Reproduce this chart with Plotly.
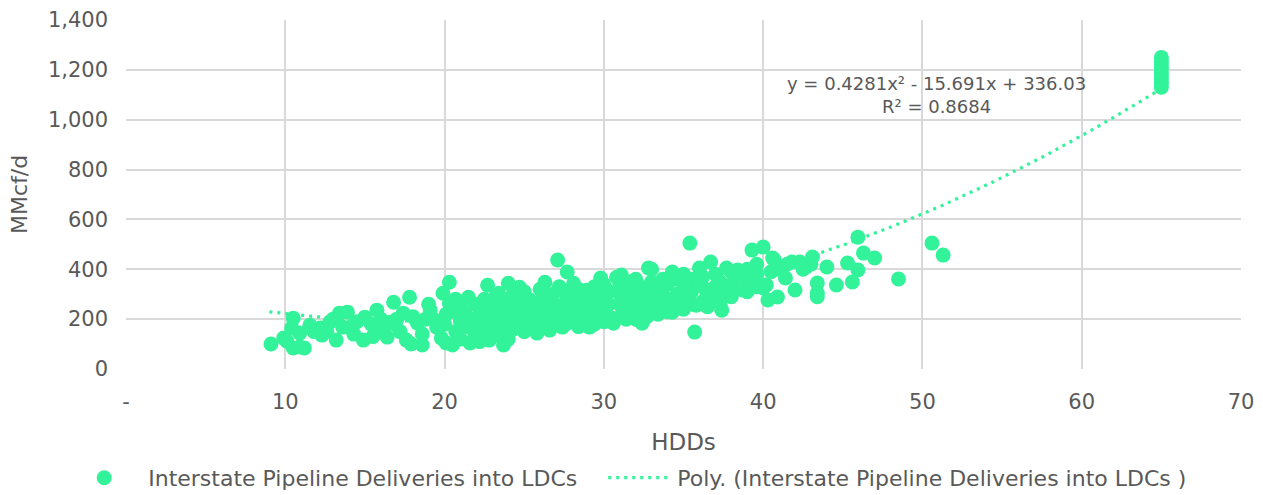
import plotly.graph_objects as go
import numpy as np

# HDD values (x) and the MMcf/d readings observed at each HDD value
hdd_groups = [
    9.1, 9.9, 10.1, 10.4, 10.5, 10.9, 11.2, 11.55, 11.8, 12.2, 12.3, 12.6, 12.8, 13.0, 13.2, 13.4,
    13.6, 13.9, 14.1, 14.3, 14.5, 14.9, 15.0, 15.4, 15.5, 15.75, 15.9, 16.0, 16.2, 16.4, 16.6, 16.8,
    16.9, 17.0, 17.2, 17.4, 17.6, 17.8, 17.9, 18.0, 18.3, 18.6, 18.8, 19.0, 19.1, 19.3, 19.5, 19.8,
    19.9, 20.0, 20.1, 20.3, 20.5, 20.7, 21.0, 21.3, 21.5, 21.6, 21.9, 22.2, 22.5, 22.7, 22.8, 23.0,
    23.2, 23.4, 23.6, 23.7, 24.0, 24.3, 24.6, 24.7, 25.0, 25.3, 25.6, 25.8, 26.0, 26.3, 26.4, 26.6,
    26.8, 27.1, 27.2, 27.4, 27.6, 27.7, 28.0, 28.1, 28.4, 28.7, 28.9, 29.0, 29.1, 29.4, 29.7, 29.8,
    30.0, 30.3, 30.6, 30.8, 31.0, 31.1, 31.4, 31.7, 31.8, 32.0, 32.3, 32.4, 32.7, 32.8, 33.0, 33.1,
    33.4, 33.7, 34.0, 34.3, 34.6, 35.0, 35.2, 35.4, 35.5, 35.7, 35.8, 36.0, 36.2, 36.5, 36.7, 36.8,
    37.0, 37.3, 37.4, 37.7, 38.0, 38.3, 38.4, 38.7, 39.0, 39.3, 39.6, 40.0, 40.2, 40.3, 40.5, 40.6,
    40.7, 40.9, 41.0, 41.4, 41.5, 41.8, 42.0, 42.3, 42.5, 42.7, 43.0, 43.1, 43.4, 44.0, 44.6, 45.3,
    45.6, 45.95, 46.3, 47.0, 48.5, 50.6, 51.3, 65.0,
]
mmcfd_groups = [
    [100], [124], [112], [164], [204, 84], [88, 144], [84], [176], [150], [164], [136], [150], [188], [200], [116], [224],
    [168], [228], [168], [140], [190], [116], [208], [180], [130], [236], [148], [200], [160], [128], [188], [268],
    [180], [200], [150], [224], [116], [288], [100], [210], [184], [96, 140], [200], [260], [236], [200], [168], [124],
    [304], [180], [220, 104], [348, 264], [96], [150, 230, 280], [120, 190, 250], [170, 220], [288], [104], [140, 200, 260], [110, 180, 240], [150, 210, 280], [336], [116], [130, 200, 250],
    [170, 230, 290], [304], [140, 210, 270], [96], [344, 120, 180, 250], [160, 220, 300], [190, 240, 270], [328], [150, 210, 260, 310], [180, 230, 280], [160, 200, 250], [144], [170, 220, 270, 320], [348], [190, 240, 290], [156],
    [180, 230, 260, 300], [437], [200, 250, 330], [168], [180, 220, 270, 310], [389], [190, 240, 290], [344], [170, 210, 260, 320], [200, 250, 300], [316], [190, 230, 280], [168], [180, 220, 260, 330], [200, 250, 300], [365],
    [190, 230, 280, 340], [210, 260, 310], [196, 184], [368], [210, 260, 300, 340], [377], [200, 250, 320], [220, 280, 350], [236], [200, 240, 300, 360], [230, 270, 330], [184], [210, 260, 310], [405], [230, 290, 350, 400], [248],
    [220, 270, 320], [240, 300, 360], [230, 280, 340], [389, 228], [250, 300, 360], [240, 290, 340, 380], [325], [505], [260, 310, 360], [148], [256], [405], [270, 330, 370], [250, 300], [429], [289],
    [280, 330, 380], [260, 350], [236], [405, 309], [290, 340, 390], [320, 370], [397], [317], [310, 360, 400], [477], [330, 380, 420], [489, 325], [337], [277], [390], [445],
    [437], [289], [400], [365], [420], [429], [317], [429], [400], [409], [420], [449], [345, 305, 290], [409], [337], [425],
    [349], [529, 397], [465], [445], [361], [505], [457], [1130, 1145, 1160, 1175, 1190, 1205, 1220, 1235, 1250],
]

# Polynomial trendline coefficients shown on the chart (a2, a1, a0)
trend_coefs = [0.4281, -15.691, 336.03]
trend_range = [9.0, 65.0]

x_ticks = [0, 10, 20, 30, 40, 50, 60, 70]
x_ticktext = ["-", "10", "20", "30", "40", "50", "60", "70"]
y_ticks = [0, 200, 400, 600, 800, 1000, 1200, 1400]

series_name = "Interstate Pipeline Deliveries into LDCs"
green = "#33F39A"
grey_text = "#595959"
grid = "#D9D9D9"
font_family = "DejaVu Sans, sans-serif"

xs, ys = [], []
for hx, vals in zip(hdd_groups, mmcfd_groups):
    for v in vals:
        xs.append(hx)
        ys.append(v)

tx = np.linspace(trend_range[0], trend_range[1], 200)
ty = np.polyval(trend_coefs, tx)

fig = go.Figure()
fig.add_trace(go.Scatter(
    x=tx, y=ty, mode="lines", name="Poly. (" + series_name + " )",
    line=dict(color=green, width=3.2, dash="3px,5px"), legend="legend2",
))
fig.add_trace(go.Scatter(
    x=xs, y=ys, mode="markers", name=series_name,
    marker=dict(color=green, size=15, line=dict(width=0)), legend="legend",
))

fig.add_annotation(
    x=50.9, y=1100, xref="x", yref="y",
    text="y = 0.4281x² - 15.691x + 336.03<br>R² = 0.8684",
    showarrow=False, align="center",
    font=dict(family=font_family, size=18, color=grey_text),
)

fig.update_layout(
    width=1263, height=495,
    margin=dict(l=126, r=22, t=20, b=126, autoexpand=False),
    paper_bgcolor="white", plot_bgcolor="white",
    font=dict(family=font_family, color=grey_text),
    showlegend=True,
    legend=dict(
        orientation="h", x=-0.059, xanchor="left", y=-0.312, yanchor="middle",
        font=dict(size=22, color=grey_text), itemwidth=78,
    ),
    legend2=dict(
        orientation="h", x=0.428, xanchor="left", y=-0.312, yanchor="middle",
        font=dict(size=22, color=grey_text), itemwidth=64,
    ),
    xaxis=dict(
        range=[0, 70], tickvals=x_ticks, ticktext=x_ticktext, automargin=False,
        showgrid=True, gridcolor=grid, gridwidth=1.5,
        zeroline=False, showline=False,
        tickfont=dict(size=21, color=grey_text), ticklabelstandoff=18,
        title=dict(text="HDDs", font=dict(size=23, color=grey_text), standoff=20),
    ),
    yaxis=dict(
        range=[0, 1400], tickvals=y_ticks, tickformat=",", automargin=False,
        showgrid=True, gridcolor=grid, gridwidth=1.5,
        zeroline=False, showline=False,
        tickfont=dict(size=21, color=grey_text), ticklabelstandoff=17,
        title=dict(text="MMcf/d", font=dict(size=22, color=grey_text), standoff=14),
    ),
)

fig.write_html("out.html")
